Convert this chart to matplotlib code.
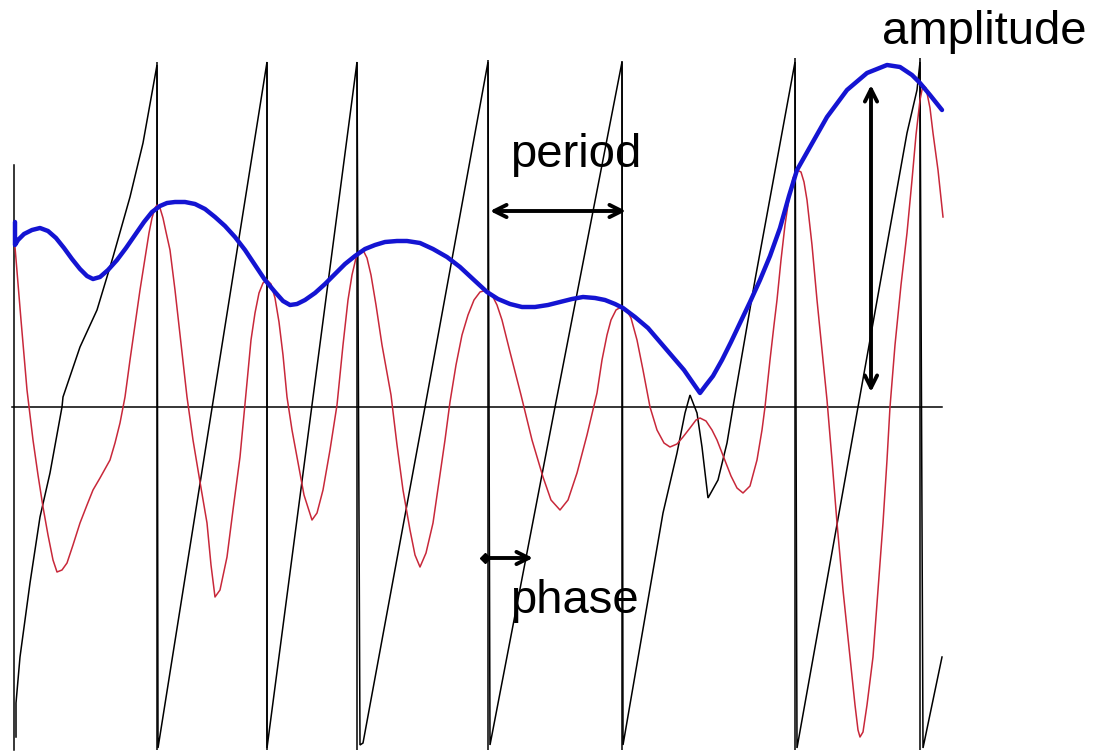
import matplotlib
matplotlib.use("Agg")
import matplotlib.pyplot as plt

plt.rcParams['font.family'] = ['Liberation Sans', 'DejaVu Sans']

# ---- data (pixel-like units) ----
vertical_x = [157, 267, 357, 488, 622, 795, 920]
vertical_top = [62, 62, 62, 60, 61, 58, 58]
vertical_bottom = 750

axis_x = [12, 942]
axis_y = [407, 407]
left_axis_x = [14, 14]
left_axis_y = [165, 750]

phase_x = [16, 16, 20, 30, 40, 50, 62, 63, 80, 97, 113, 130, 143, 157,
           158, 267,
           267, 357,
           360, 363, 425, 488,
           490, 555, 622,
           623, 663, 677, 685, 690, 697, 702, 708, 718, 727, 733, 755, 795,
           797, 858, 907, 917, 920,
           923, 942]
phase_y = [737, 703, 657, 583, 517, 473, 407, 397, 347, 310, 257, 197, 143, 65,
           748, 62,
           748, 62,
           745, 743, 407, 62,
           745, 407, 62,
           745, 513, 453, 413, 395, 413, 447, 498, 480, 443, 407, 280, 62,
           748, 407, 133, 90, 62,
           748, 657]

envelope_x = [15, 15, 18, 24, 32, 40, 48, 56, 64, 72, 80, 87, 93, 100, 108,
              117, 126, 135, 144, 152, 160, 167, 175, 185, 195, 205, 215,
              225, 235, 245, 255, 265, 275, 283, 290, 297, 305, 315, 325,
              335, 345, 355, 365, 375, 385, 397, 407, 420, 433, 447, 460,
              474, 487, 498, 510, 522, 535, 548, 560, 572, 583, 595, 605,
              615, 623, 635, 648, 660, 672, 684, 693, 700, 706, 713, 722,
              731, 740, 750, 760, 770, 780, 789, 797, 810, 827, 847, 867,
              887, 900, 912, 920, 930, 942]
envelope_y = [222, 245, 240, 234, 230, 228, 231, 238, 248, 259, 269, 276,
              279, 277, 270, 260, 248, 235, 222, 212, 206, 203, 202, 202,
              204, 209, 217, 226, 237, 250, 265, 280, 292, 301, 305, 304,
              300, 293, 284, 274, 264, 256, 249, 245, 242, 241, 241, 243,
              249, 257, 267, 280, 292, 299, 304, 307, 307, 305, 302, 299,
              297, 298, 300, 304, 308, 317, 328, 342, 356, 370, 383, 393,
              385, 376, 360, 342, 323, 302, 280, 256, 228, 196, 170, 147,
              117, 90, 73, 65, 67, 75, 83, 95, 110]

signal_x = [15, 21, 27, 33, 38, 43, 48, 53, 57, 62, 67, 73, 80, 87, 93, 100,
            110, 115, 120, 125, 130, 135, 140, 145, 149, 152, 155, 157, 160,
            163, 166, 170, 175, 180, 187, 193, 200, 207, 211, 215, 220, 227,
            233, 240, 246, 251, 255, 259, 263, 267, 271, 275, 279, 283, 287,
            292, 297, 304, 312, 317, 323, 330, 337, 343, 348, 352, 356, 360,
            363, 367, 371, 376, 382, 391, 397, 403, 410, 415, 420, 426, 433,
            440, 445, 450, 456, 462, 468, 474, 480, 487, 492, 497, 502, 510,
            521, 532, 543, 551, 560, 568, 577, 587, 597, 602, 607, 611, 616,
            621, 626, 631, 637, 643, 650, 657, 664, 670, 677, 683, 690, 696,
            700, 706, 712, 717, 724, 731, 737, 743, 750, 757, 762, 765, 770,
            774, 777, 781, 785, 789, 793, 797, 801, 804, 807, 812, 817, 822,
            827, 832, 837, 843, 850, 855, 858, 860, 863, 867, 873, 878, 883,
            887, 890, 895, 901, 907, 912, 916, 920, 923, 926, 930, 933, 938,
            943]
signal_y = [247, 320, 390, 440, 475, 507, 535, 560, 572, 570, 563, 545, 523,
            505, 490, 478, 460, 443, 423, 397, 360, 325, 290, 258, 233, 218,
            208, 205, 208, 218, 232, 250, 290, 335, 397, 440, 482, 523, 565,
            597, 590, 557, 510, 457, 393, 340, 313, 293, 283, 280, 284, 298,
            322, 355, 397, 430, 457, 495, 520, 513, 490, 450, 405, 345, 300,
            275, 258, 251, 250, 258, 275, 305, 345, 395, 445, 490, 530, 555,
            567, 553, 523, 475, 440, 402, 365, 335, 315, 300, 292, 290, 295,
            305, 320, 352, 395, 440, 477, 500, 510, 500, 473, 435, 393, 360,
            335, 320, 310, 307, 309, 318, 340, 370, 407, 430, 443, 447, 444,
            437, 428, 420, 418, 421, 430, 440, 458, 476, 488, 493, 486, 460,
            430, 407, 360, 325, 300, 260, 225, 198, 178, 170, 172, 182, 200,
            245, 300, 350, 400, 460, 523, 590, 657, 705, 730, 737, 732, 705,
            657, 590, 523, 460, 407, 345, 285, 233, 180, 135, 100, 85, 88,
            108, 133, 170, 217]

labels = {"amplitude": (882, 44), "period": (510, 167), "phase": (510, 613)}

# ---- drawing ----
fig = plt.figure(figsize=(10.94, 7.54), dpi=100)
ax = fig.add_axes([0, 0, 1, 1])
ax.set_xlim(0, 1094)
ax.set_ylim(754, 0)
ax.axis('off')

black_lw = 1.1
for vx, vt in zip(vertical_x, vertical_top):
    ax.plot([vx, vx], [vt, vertical_bottom], color='black', lw=black_lw,
            solid_capstyle='butt')
ax.plot(axis_x, axis_y, color='black', lw=black_lw)
ax.plot(left_axis_x, left_axis_y, color='black', lw=black_lw)

ax.plot(phase_x, phase_y, color='black', lw=1.1, solid_joinstyle='miter')
ax.plot(signal_x, signal_y, color='#c8283a', lw=1.1)
ax.plot(envelope_x, envelope_y, color='#1414d2', lw=3.2,
        solid_capstyle='round', solid_joinstyle='round')

arrow_kw = dict(arrowstyle='<->', lw=2.8, color='black', mutation_scale=22,
                shrinkA=0, shrinkB=0)
ax.annotate('', xy=(626, 211), xytext=(490, 211), arrowprops=arrow_kw)
ax.annotate('', xy=(871, 392), xytext=(871, 85), arrowprops=arrow_kw)
ax.annotate('', xy=(533, 558), xytext=(486, 558),
            arrowprops=dict(arrowstyle='->', lw=2.8, color='black',
                            mutation_scale=22, shrinkA=0, shrinkB=0))
ax.plot([485], [558], marker='D', markersize=5, color='black')

for txt, (tx, ty) in labels.items():
    ax.text(tx, ty, txt, fontsize=34, color='black', ha='left',
            va='baseline')

fig.savefig('out.png', dpi=100)
